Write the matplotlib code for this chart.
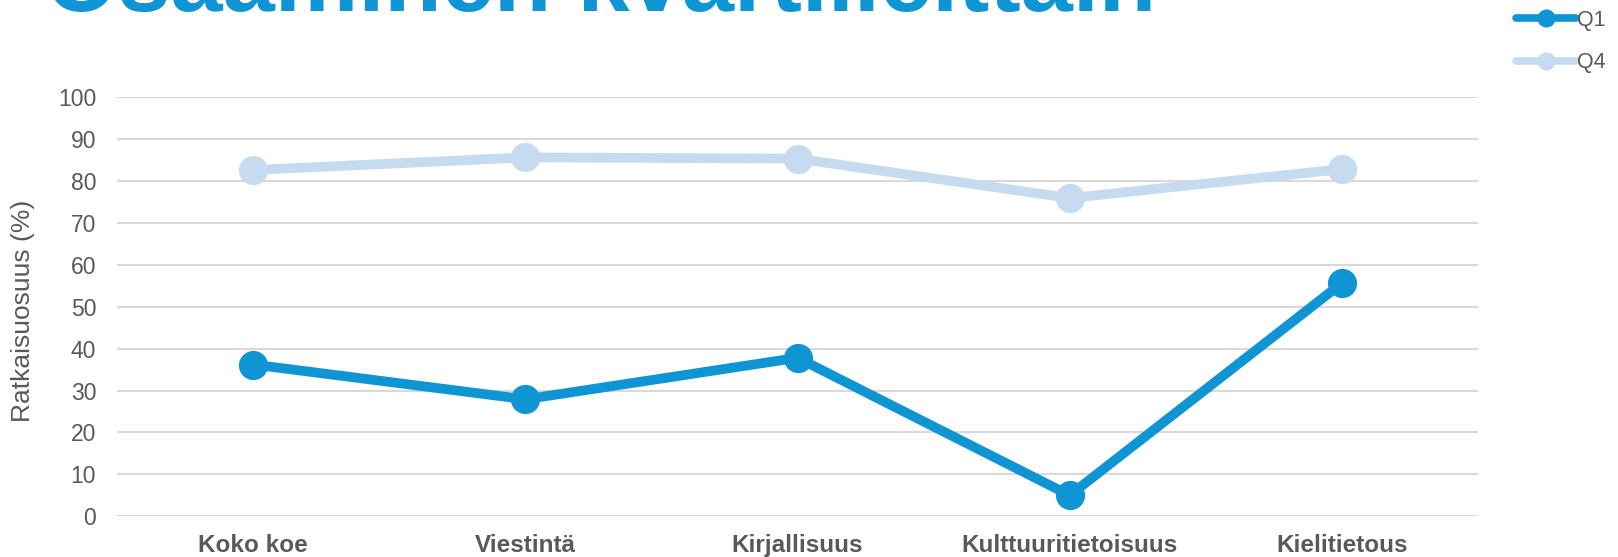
import matplotlib
matplotlib.use("Agg")
import matplotlib.pyplot as plt

plt.rcParams["font.family"] = ["Liberation Sans", "DejaVu Sans"]

categories = ["Koko koe", "Viestintä", "Kirjallisuus", "Kulttuuritietoisuus", "Kielitietous"]
q1 = [36.2, 27.9, 37.8, 5.0, 55.6]
q4 = [82.6, 85.6, 85.3, 75.9, 82.8]
yticks = list(range(0, 101, 10))

BLUE = "#0f94d4"
LIGHT = "#c6dbf0"
GREY = "#595959"

fig = plt.figure(figsize=(16.18, 5.57), dpi=100)
ax = fig.add_axes([117 / 1618, 1 - 516.3 / 557, (1478 - 117) / 1618, (516.3 - 97) / 557])

x = range(len(categories))
ax.plot(x, q4, color=LIGHT, lw=7, marker="o", ms=20, label="Q4", solid_capstyle="round")
ax.plot(x, q1, color=BLUE, lw=7, marker="o", ms=20, label="Q1", solid_capstyle="round")

ax.set_xlim(-0.5, len(categories) - 0.5)
ax.set_ylim(0, 100)
ax.set_yticks(yticks)
ax.set_xticks(list(x))
ax.set_xticklabels(categories, fontweight="bold", fontsize=17.5, color=GREY)
ax.tick_params(axis="y", labelsize=16.5, labelcolor=GREY, length=0, pad=15)
ax.tick_params(axis="x", length=0, pad=12.5)
ax.grid(axis="y", color="#d9d9d9", lw=1.5)
ax.set_axisbelow(True)
for s in ax.spines.values():
    s.set_visible(False)
ax.set_ylabel("Ratkaisuosuus (%)", fontsize=19, color=GREY, va="center")
ax.yaxis.set_label_coords(-94 / 1361, 0.49)

# legend, Q1 on top
h, l = ax.get_legend_handles_labels()
leg = fig.legend(h[::-1], l[::-1], loc="upper left", bbox_to_anchor=(1516 / 1618, 1 - 10 / 557),
                 frameon=False, fontsize=15.5, handlelength=2.8, labelspacing=0.98,
                 handletextpad=0.05, borderpad=0, borderaxespad=0, markerscale=0.6)
for t in leg.get_texts():
    t.set_color(GREY)
for ln in leg.get_lines():
    ln.set_linewidth(5.5)

# title, clipped at the top edge
title = fig.text(45 / 1618, 1 - 11 / 557, "Osaaminen kvartiileittain", fontsize=70,
                 fontweight="bold", color=BLUE, ha="left", va="baseline")
fig.canvas.draw()
w = title.get_window_extent().width
title.set_fontsize(70 * 1112 / w)

fig.savefig("out.png", dpi=100)
